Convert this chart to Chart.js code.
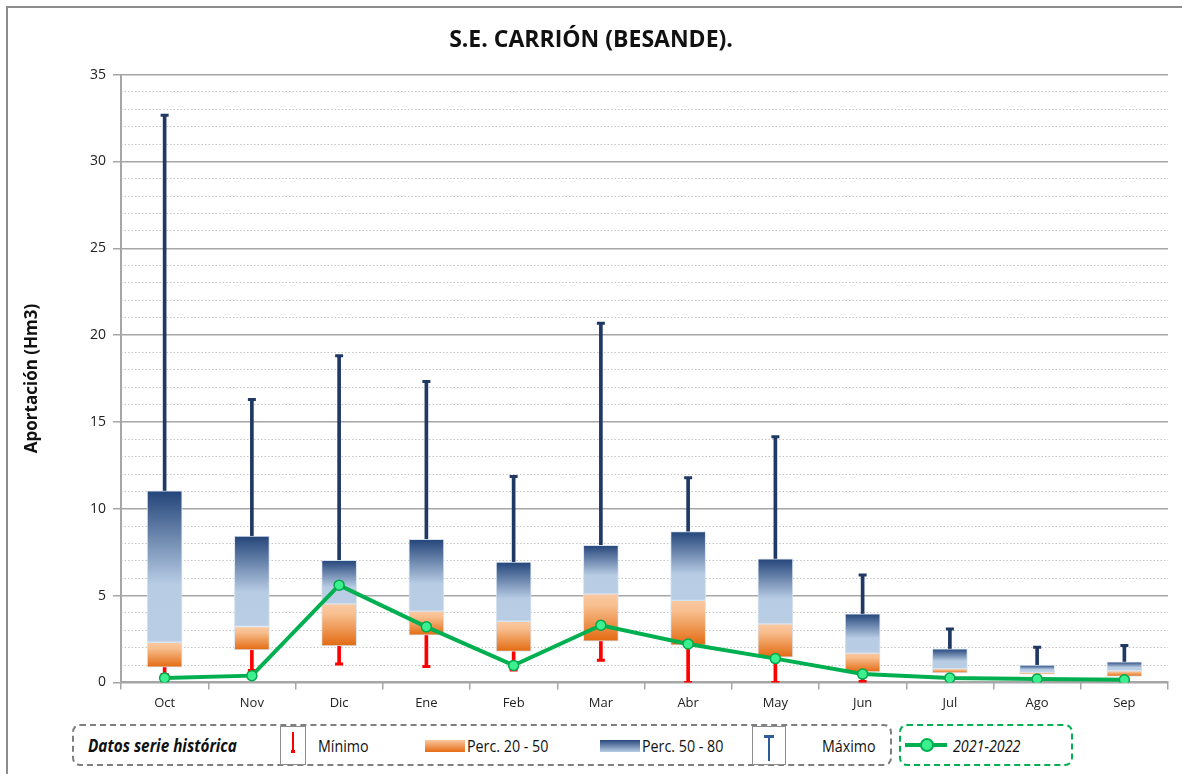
<!DOCTYPE html>
<html>
<head>
<meta charset="utf-8">
<script src="https://cdn.jsdelivr.net/npm/chart.js@4.4.1/dist/chart.umd.min.js"></script>
<style>
    html, body { margin: 0; padding: 0; background: #fff; }
    body { width: 1182px; height: 774px; overflow: hidden; position: relative; font-family: 'Open Sans', sans-serif; }
    #frame { position: absolute; left: 6px; top: 6px; width: 1300px; height: 900px; border: 2px solid #8c8c8c; box-sizing: border-box; }
    #wrap { position: absolute; left: 0; top: 0; width: 1182px; height: 723px; }
    .legend-box { position: absolute; top: 724px; height: 42px; border-radius: 8px; box-sizing: border-box; }
    #leg-hist { left: 72px; width: 820px; border: 2px dashed #7f7f7f; }
    #leg-cur { left: 899px; width: 174px; border: 2px dashed #00b050; }
    .lt { position: absolute; top: 8px; font-family: 'Open Sans', sans-serif; font-size: 17px; color: #111; white-space: nowrap; transform: scaleX(0.84); transform-origin: left center; }
    .ibox { position: absolute; top: 0; height: 37px; border: 1px solid #8c8c8c; background: #fff; }
    .sw { position: absolute; top: 14px; width: 40px; height: 12px; }
</style>
</head>
<body>
<div id="frame"></div>
<div id="wrap"><canvas id="chart"></canvas></div>

<div class="legend-box" id="leg-hist">
    <span class="lt" style="left:14px;font-weight:bold;font-style:italic;transform:scaleX(0.9);">Datos serie histórica</span>
    <div class="ibox" style="left:206px;width:24px;">
        <div style="position:absolute;left:11px;top:5px;width:2px;height:20px;background:#ff0000;"></div>
        <div style="position:absolute;left:10px;top:23px;width:4px;height:3px;background:#ff0000;"></div>
    </div>
    <span class="lt" style="left:244px;">Mínimo</span>
    <div class="sw" style="left:351px;background:linear-gradient(#fac7a0,#e46c12);"></div>
    <span class="lt" style="left:393px;">Perc. 20 - 50</span>
    <div class="sw" style="left:526px;background:linear-gradient(#27477b,#b9cde5);"></div>
    <span class="lt" style="left:568px;">Perc. 50 - 80</span>
    <div class="ibox" style="left:678px;width:32px;">
        <div style="position:absolute;left:15px;top:10px;width:2px;height:24px;background:#2e5c9a;"></div>
        <div style="position:absolute;left:11px;top:8px;width:10px;height:3px;background:#2e5c9a;"></div>
    </div>
    <span class="lt" style="left:748px;">Máximo</span>
</div>
<div class="legend-box" id="leg-cur">
    <div style="position:absolute;left:4px;top:17px;width:42px;height:4px;background:#00b050;"></div>
    <div style="position:absolute;left:19px;top:12px;width:10px;height:10px;border-radius:50%;background:#3cf08f;border:2px solid #00b050;"></div>
    <span class="lt" style="left:52px;font-style:italic;">2021-2022</span>
</div>

<script>
// Datos serie histórica (Hm3) por mes del año hidrológico
const months = ['Oct', 'Nov', 'Dic', 'Ene', 'Feb', 'Mar', 'Abr', 'May', 'Jun', 'Jul', 'Ago', 'Sep'];
const minimo = [0.45, 0.68, 1.06, 0.91, 0.71, 1.27, 0.00, 0.00, 0.05, 0.40, 0.35, 0.25];
const perc20 = [0.88, 1.87, 2.10, 2.72, 1.79, 2.37, 2.14, 1.46, 0.60, 0.54, 0.48, 0.35];
const perc50 = [2.31, 3.22, 4.52, 4.10, 3.52, 5.10, 4.72, 3.37, 1.69, 0.79, 0.58, 0.67];
const perc80 = [11.03, 8.42, 7.03, 8.24, 6.93, 7.90, 8.68, 7.12, 3.95, 1.94, 1.00, 1.19];
const maximo = [32.66, 16.29, 18.81, 17.33, 11.86, 20.68, 11.78, 14.15, 6.18, 3.08, 2.02, 2.12];
const serie2122 = [0.25, 0.39, 5.60, 3.20, 0.98, 3.29, 2.21, 1.37, 0.48, 0.25, 0.19, 0.15];

const FONT = "'Open Sans', sans-serif";

// gradient for each floating bar, from its own top to bottom pixel
function barGradient(stops, fallback) {
    return function (context) {
        const chart = context.chart;
        if (!chart.chartArea || context.type !== 'data' || !context.raw) return fallback;
        const y = chart.scales.y;
        const top = y.getPixelForValue(context.raw[1]);
        const bottom = y.getPixelForValue(context.raw[0]);
        if (!isFinite(top) || !isFinite(bottom) || top === bottom) return fallback;
        const g = chart.ctx.createLinearGradient(0, top, 0, bottom);
        stops.forEach(s => g.addColorStop(s[0], s[1]));
        return g;
    };
}

const lowWhisker = months.map((m, i) => [minimo[i], perc20[i]]);
const lowerBox = months.map((m, i) => [perc20[i], perc50[i]]);
const upperBox = months.map((m, i) => [perc50[i], perc80[i]]);
const highWhisker = months.map((m, i) => [perc80[i], maximo[i]]);

new Chart(document.getElementById('chart'), {
    type: 'bar',
    data: {
        labels: months,
        datasets: [
            {
                label: 'Perc. 20 - 50',
                data: lowerBox,
                grouped: false,
                barThickness: 35,
                backgroundColor: barGradient([[0, '#fac9a2'], [0.25, '#f8be8e'], [1, '#e36a10']], '#f4a46a'),
                borderColor: 'rgba(214,226,240,0.9)',
                borderWidth: 1,
                borderSkipped: false,
                order: 2,
            },
            {
                label: 'Perc. 50 - 80',
                data: upperBox,
                grouped: false,
                barThickness: 35,
                backgroundColor: barGradient([[0, '#24457a'], [0.62, '#b8cce4'], [1, '#b9cde5']], '#6f86ab'),
                borderColor: 'rgba(214,226,240,0.9)',
                borderWidth: 1,
                borderSkipped: false,
                order: 2,
            },
            {
                label: 'Mínimo',
                data: lowWhisker,
                grouped: false,
                barThickness: 3,
                backgroundColor: '#ff0000',
                order: 3,
            },
            {
                label: 'Máximo',
                data: highWhisker,
                grouped: false,
                barThickness: 3,
                backgroundColor: '#1f3864',
                order: 3,
            },
            {
                type: 'line',
                label: 'Mínimo cap',
                data: minimo,
                showLine: false,
                pointStyle: 'line',
                pointRadius: 4,
                pointHoverRadius: 4,
                borderColor: '#ff0000',
                borderWidth: 3,
                order: 1,
            },
            {
                type: 'line',
                label: 'Máximo cap',
                data: maximo,
                showLine: false,
                pointStyle: 'line',
                pointRadius: 4,
                pointHoverRadius: 4,
                borderColor: '#1f3864',
                borderWidth: 3,
                order: 1,
            },
            {
                type: 'line',
                label: '2021-2022',
                data: serie2122,
                borderColor: '#00b050',
                borderWidth: 4,
                tension: 0,
                pointRadius: 5,
                pointBorderWidth: 1.5,
                pointBackgroundColor: '#3cf08f',
                pointBorderColor: '#00a84c',
                order: 0,
            },
        ],
    },
    options: {
        responsive: true,
        maintainAspectRatio: false,
        animation: false,
        layout: { padding: { left: 14, right: 14, top: 0, bottom: 6 } },
        plugins: {
            legend: { display: false },
            tooltip: { enabled: false },
            title: {
                display: true,
                text: 'S.E. CARRIÓN (BESANDE).',
                color: '#111',
                font: { family: FONT, size: 23, weight: 'bold' },
                padding: { top: 27, bottom: 20 },
            },
        },
        scales: {
            x: {
                grid: {
                    offset: true,
                    drawOnChartArea: false,
                    drawTicks: true,
                    tickLength: 7,
                    color: '#a6a6a6',
                    lineWidth: 1.5,
                },
                border: { color: '#a6a6a6', width: 2 },
                ticks: {
                    color: '#222',
                    font: { family: FONT, size: 13 },
                    padding: 6,
                },
            },
            y: {
                min: 0,
                max: 35,
                afterFit: (scale) => { scale.width = 107; },
                ticks: {
                    stepSize: 5,
                    color: '#222',
                    font: { family: FONT, size: 14 },
                    padding: 7,
                },
                grid: {
                    color: '#a6a6a6',
                    lineWidth: 1.5,
                    tickLength: 8,
                },
                border: { color: '#a6a6a6', width: 2 },
                title: {
                    display: true,
                    text: 'Aportación (Hm3)',
                    color: '#111',
                    font: { family: FONT, size: 17, weight: 'bold' },
                    padding: { top: 8, bottom: 0 },
                },
            },
            yMinor: {
                type: 'linear',
                position: 'right',
                min: 0,
                max: 35,
                afterFit: (scale) => { scale.width = 0; },
                ticks: { stepSize: 1, display: false },
                grid: {
                    drawTicks: false,
                    lineWidth: 1,
                    color: (ctx) => (ctx.tick && ctx.tick.value % 5 === 0) ? 'rgba(0,0,0,0)' : '#c4c4c4',
                },
                border: { display: false, dash: [1.5, 2] },
            },
        },
    },
});
</script>
</body>
</html>
